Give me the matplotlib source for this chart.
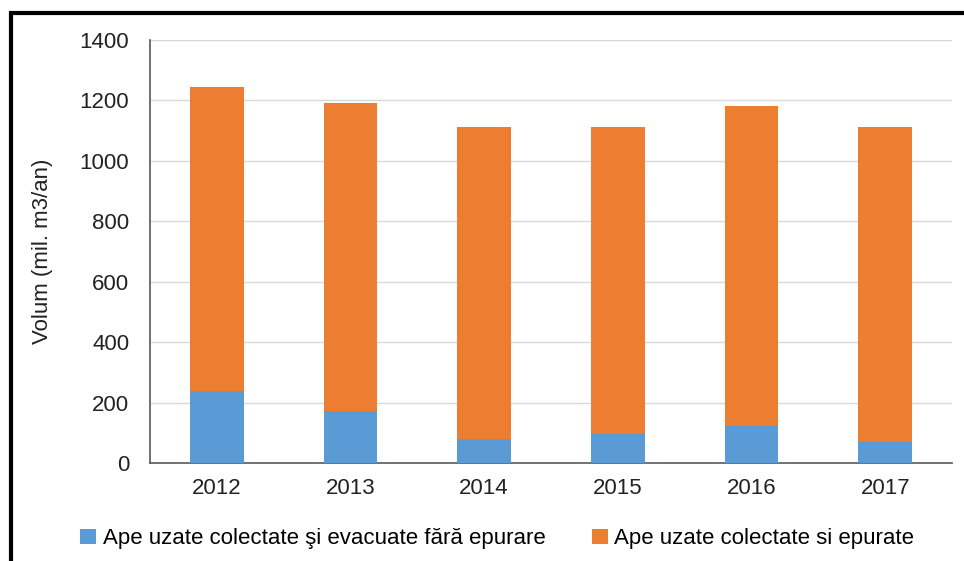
import matplotlib.pyplot as plt
from matplotlib.patches import Rectangle

years = ['2012', '2013', '2014', '2015', '2016', '2017']
fara_epurare = [238, 172, 79, 95, 122, 70]
epurate = [1006, 1019, 1033, 1016, 1060, 1041]

plt.rcParams['font.family'] = ['Liberation Sans', 'DejaVu Sans']

fig = plt.figure(figsize=(9.64, 5.61), dpi=100)
ax = fig.add_axes([0.1556, 0.1747, 0.832, 0.754])

x = range(len(years))
ax.bar(x, fara_epurare, 0.4, color='#5B9BD5', label='Ape uzate colectate şi evacuate fără epurare', zorder=3)
ax.bar(x, epurate, 0.4, bottom=fara_epurare, color='#ED7D31', label='Ape uzate colectate si epurate', zorder=3)

ax.set_xlim(-0.5, 5.5)
ax.set_ylim(0, 1400)
ax.set_yticks(range(0, 1401, 200))
ax.set_xticks(list(x))
ax.set_xticklabels(years)
ax.tick_params(length=0, labelsize=16, colors='#222222')
ax.tick_params(axis='x', pad=11)
ax.tick_params(axis='y', pad=15)
ax.grid(axis='y', color='#D9D9D9', linewidth=1, zorder=0)
for s in ['top', 'right']:
    ax.spines[s].set_visible(False)
ax.spines['left'].set_color('#595959')
ax.spines['bottom'].set_color('#595959')
ax.spines['left'].set_linewidth(1.2)
ax.spines['bottom'].set_linewidth(1.2)
ax.set_ylabel('Volum (mil. m3/an)', fontsize=16, color='#222222', labelpad=19)

fig.legend(loc='center', bbox_to_anchor=(0.516, 0.04), ncol=2, frameon=False,
           fontsize=16, handlelength=0.7, handleheight=0.7, handletextpad=0.3,
           columnspacing=2.1)

# frame around the chart
fig.patches.append(Rectangle((11/964, -0.1), 2, 1.1 - 13/561, transform=fig.transFigure,
                             fill=False, edgecolor='black', linewidth=3))

fig.savefig('out.png', dpi=100)
